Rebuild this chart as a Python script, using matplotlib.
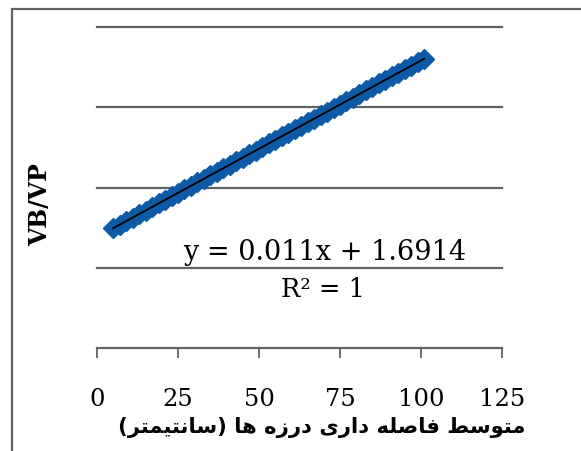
import matplotlib
matplotlib.use("Agg")
import matplotlib.pyplot as plt
import numpy as np
from matplotlib.patches import Rectangle

# ---------------- data ----------------
x_spacing = [5, 7, 9, 11, 13, 15, 17, 19, 21, 23, 25, 27, 29, 31, 33, 35, 37, 39,
             41, 43, 45, 47, 49, 51, 53, 55, 57, 59, 61, 63, 65, 67, 69, 71, 73,
             75, 77, 79, 81, 83, 85, 87, 89, 91, 93, 95, 97, 99, 101]
vb_vp = [1.7464, 1.7684, 1.7904, 1.8124, 1.8344, 1.8564, 1.8784, 1.9004, 1.9224,
         1.9444, 1.9664, 1.9884, 2.0104, 2.0324, 2.0544, 2.0764, 2.0984, 2.1204,
         2.1424, 2.1644, 2.1864, 2.2084, 2.2304, 2.2524, 2.2744, 2.2964, 2.3184,
         2.3404, 2.3624, 2.3844, 2.4064, 2.4284, 2.4504, 2.4724, 2.4944, 2.5164,
         2.5384, 2.5604, 2.5824, 2.6044, 2.6264, 2.6484, 2.6704, 2.6924, 2.7144,
         2.7364, 2.7584, 2.7804, 2.8024]
x_ticks = [0, 25, 50, 75, 100, 125]
y_grid = [1.5, 2.0, 2.5, 3.0]
equation_text = "y = 0.011x + 1.6914"
r2_text = "R² = 1"
y_label = "VB/VP"
x_label = "متوسط فاصله داری درزه ها (سانتیمتر)"

# ------------- simple Persian shaping (presentation forms) -------------
FORMS = {
    'ا': ('\uFE8D', '\uFE8E', None, None),
    'د': ('\uFEA9', '\uFEAA', None, None),
    'ر': ('\uFEAD', '\uFEAE', None, None),
    'ز': ('\uFEAF', '\uFEB0', None, None),
    'و': ('\uFEED', '\uFEEE', None, None),
    'ب': ('\uFE8F', '\uFE90', '\uFE91', '\uFE92'),
    'ت': ('\uFE95', '\uFE96', '\uFE97', '\uFE98'),
    'س': ('\uFEB1', '\uFEB2', '\uFEB3', '\uFEB4'),
    'ص': ('\uFEB9', '\uFEBA', '\uFEBB', '\uFEBC'),
    'ط': ('\uFEC1', '\uFEC2', '\uFEC3', '\uFEC4'),
    'ف': ('\uFED1', '\uFED2', '\uFED3', '\uFED4'),
    'ل': ('\uFEDD', '\uFEDE', '\uFEDF', '\uFEE0'),
    'م': ('\uFEE1', '\uFEE2', '\uFEE3', '\uFEE4'),
    'ن': ('\uFEE5', '\uFEE6', '\uFEE7', '\uFEE8'),
    'ه': ('\uFEE9', '\uFEEA', '\uFEEB', '\uFEEC'),
    'ی': ('\uFEEF', '\uFEF0', '\uFEF3', '\uFEF4'),
}


def shape_rtl(s):
    out = []
    for i, c in enumerate(s):
        if c not in FORMS:
            out.append(c)
            continue
        iso, fin, ini, med = FORMS[c]
        prev = s[i - 1] if i > 0 else None
        nxt = s[i + 1] if i + 1 < len(s) else None
        jp = prev in FORMS and FORMS[prev][2] is not None
        jn = ini is not None and nxt in FORMS
        if jp and jn:
            out.append(med)
        elif jp:
            out.append(fin)
        elif jn:
            out.append(ini)
        else:
            out.append(iso)
    vis = ''.join(out)[::-1]
    vis = vis.translate(str.maketrans({'(': ')', ')': '('}))
    return vis


# ---------------- figure ----------------
W, H = 581, 452
fig = plt.figure(figsize=(W / 100, H / 100), dpi=100)
fig.patch.set_facecolor('white')

ax = fig.add_axes([97 / W, 1 - 349 / H, 405 / W, 321 / H])
ax.set_xlim(0, 125)
ax.set_ylim(1.0, 3.0)

grid_color = '#5d6464'
for g in y_grid:
    ax.axhline(g, color=grid_color, lw=1.6, clip_on=False, zorder=1)

ax.plot(x_spacing, vb_vp, linestyle='none', marker='D', markersize=10.5,
        color='#0d5aa7', markeredgecolor='#0d5aa7', zorder=3)

coef = np.polyfit(x_spacing, vb_vp, 1)
xl = np.array([x_spacing[0], x_spacing[-1]])
ax.plot(xl, np.polyval(coef, xl), color='black', lw=1.3, zorder=4)

for s in ['left', 'right', 'top']:
    ax.spines[s].set_visible(False)
ax.spines['bottom'].set_color(grid_color)
ax.spines['bottom'].set_linewidth(1.6)
ax.set_yticks([])
ax.set_xticks(x_ticks)
ax.set_xticklabels([str(t) for t in x_ticks], family='DejaVu Serif', fontsize=17.5)
ax.tick_params(axis='x', direction='out', length=7, width=1.3, color=grid_color,
               pad=21)

ax.text(70.4, 1.60, equation_text, family='DejaVu Serif', fontsize=19.5,
        ha='center', va='center', zorder=5)
ax.text(69.6, 1.368, r2_text, family='DejaVu Serif', fontsize=18.5,
        ha='center', va='center', zorder=5)

fig.text(40 / W, 1 - 205 / H, y_label, family='DejaVu Serif', fontweight='bold',
         fontsize=17, rotation=90, ha='center', va='center')

fig.text(322 / W, 1 - 428 / H, shape_rtl(x_label), family='DejaVu Sans',
         fontweight='bold', fontsize=15.2, ha='center', va='center')

# outer border
fig.patches.append(Rectangle((12 / W, -0.1), 1.2, 1 - 10 / H + 0.1,
                             transform=fig.transFigure, fill=False,
                             edgecolor='#5d6464', lw=1.6))

fig.savefig('out.png', dpi=100)
